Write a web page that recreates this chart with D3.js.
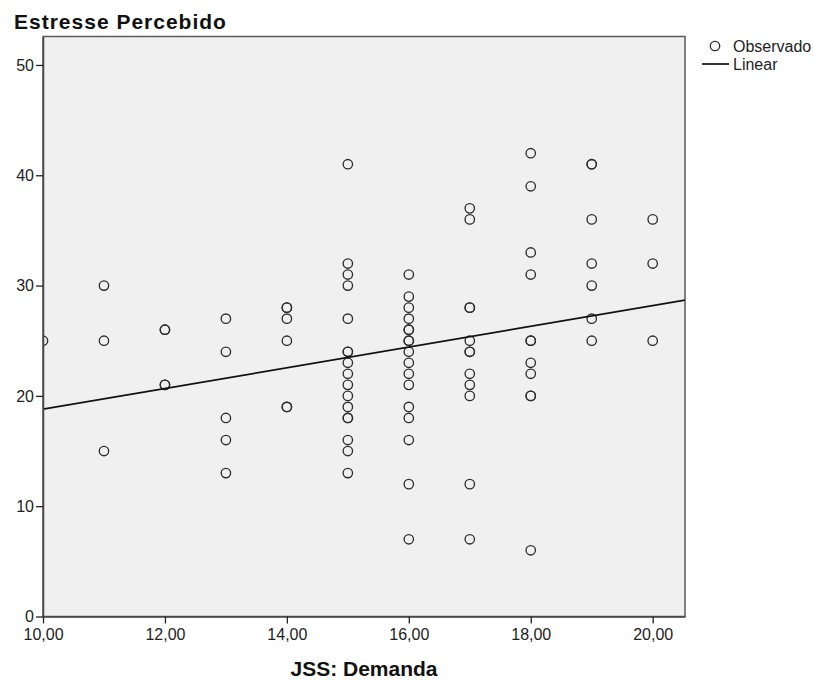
<!DOCTYPE html>
<html><head><meta charset="utf-8">
<script src="https://cdn.jsdelivr.net/npm/d3@7"></script>
<style>
body{margin:0;background:#fff;}
svg{display:block;font-family:"Liberation Sans",Arial,sans-serif;}
</style></head>
<body>
<svg id="chart" width="814" height="682"></svg>
<script>
// Data (JSS: Demanda vs Estresse Percebido)
const demanda = [
  10,
  11,11,11,
  12,12,12,12,
  13,13,13,13,13,
  14,14,14,14,14,14,
  15,15,15,15,15,15,15,15,15,15,15,15,15,15,15,15,15,
  16,16,16,16,16,16,16,16,16,16,16,16,16,16,16,16,16,
  17,17,17,17,17,17,17,17,17,17,17,17,
  18,18,18,18,18,18,18,18,18,18,18,
  19,19,19,19,19,19,19,
  20,20,20
];
const estresse = [
  25,
  30,25,15,
  26,26,21,21,
  27,24,18,16,13,
  28,28,27,25,19,19,
  41,32,31,30,27,24,24,23,22,21,20,19,18,18,16,15,13,
  31,29,28,27,26,26,25,25,24,23,22,21,19,18,16,12,7,
  37,36,28,28,25,24,24,22,21,20,12,7,
  42,39,33,31,25,25,23,22,20,20,6,
  41,41,36,32,30,27,25,
  36,32,25
];
const fitIntercept = 9.40;
const fitSlope = 0.939;
const xTicks = [10,12,14,16,18,20];
const yTicks = [0,10,20,30,40,50];
const xDomain = [10, 20.53];
const yDomain = [0, 52.58];
const title = "Estresse Percebido";
const xLabel = "JSS: Demanda";
const legendLabels = ["Observado","Linear"];

const svg = d3.select("#chart");
const L = 43, R = 685, T = 36.5, B = 616.5;
const x = d3.scaleLinear().domain(xDomain).range([L, R]);
const y = d3.scaleLinear().domain(yDomain).range([B, T]);

svg.append("defs").append("clipPath").attr("id","clip")
  .append("rect").attr("x",L).attr("y",T).attr("width",R-L).attr("height",B-T);

svg.append("rect").attr("x",L).attr("y",T).attr("width",R-L).attr("height",B-T)
  .attr("fill","#f0f0f0").attr("stroke","#5a5a5a").attr("stroke-width",1.5);

const pts = demanda.map((d,i)=>({x:d,y:estresse[i]}));
svg.append("g").attr("clip-path","url(#clip)")
  .selectAll("circle").data(pts).join("circle")
  .attr("cx",d=>x(d.x)).attr("cy",d=>y(d.y)).attr("r",4.7)
  .attr("fill","none").attr("stroke","#2e2e2e").attr("stroke-width",1.35);

svg.append("g").attr("clip-path","url(#clip)").append("line")
  .attr("x1",x(xDomain[0])).attr("y1",y(fitIntercept+fitSlope*xDomain[0]))
  .attr("x2",x(xDomain[1])).attr("y2",y(fitIntercept+fitSlope*xDomain[1]))
  .attr("stroke","#111").attr("stroke-width",1.7);

const xAxis = svg.append("g").attr("transform",`translate(0,${B})`)
  .call(d3.axisBottom(x).tickValues(xTicks).tickSize(7).tickSizeOuter(0)
    .tickFormat(d=>d3.format(".2f")(d).replace(".",",")));
xAxis.select(".domain").attr("stroke","#444").attr("stroke-width",1.5);
xAxis.selectAll(".tick line").attr("stroke","#222").attr("stroke-width",1.3);
xAxis.selectAll(".tick text").attr("font-size",16).attr("fill","#222").attr("dy","0.85em")
  .attr("font-family","Liberation Sans, Arial, sans-serif");

const yAxis = svg.append("g").attr("transform",`translate(${L},0)`)
  .call(d3.axisLeft(y).tickValues(yTicks).tickSize(7).tickSizeOuter(0).tickPadding(2));
yAxis.select(".domain").attr("stroke","#444").attr("stroke-width",1.5);
yAxis.selectAll(".tick line").attr("stroke","#222").attr("stroke-width",1.3);
yAxis.selectAll(".tick text").attr("font-size",16).attr("fill","#222")
  .attr("font-family","Liberation Sans, Arial, sans-serif");

svg.append("text").attr("x",14).attr("y",29).attr("font-size",21).attr("font-weight","bold")
  .attr("letter-spacing","1px").attr("fill","#111").text(title);

svg.append("text").attr("x",(L+R)/2).attr("y",676).attr("text-anchor","middle")
  .attr("font-size",21).attr("font-weight","bold").attr("fill","#111").text(xLabel);

const lg = svg.append("g");
lg.append("circle").attr("cx",715).attr("cy",46).attr("r",4.7)
  .attr("fill","none").attr("stroke","#2e2e2e").attr("stroke-width",1.35);
lg.append("text").attr("x",733).attr("y",52).attr("font-size",16).attr("fill","#222").text(legendLabels[0]);
lg.append("line").attr("x1",702).attr("x2",729).attr("y1",64).attr("y2",64)
  .attr("stroke","#111").attr("stroke-width",1.7);
lg.append("text").attr("x",733).attr("y",70).attr("font-size",16).attr("fill","#222").text(legendLabels[1]);
</script>
</body></html>
